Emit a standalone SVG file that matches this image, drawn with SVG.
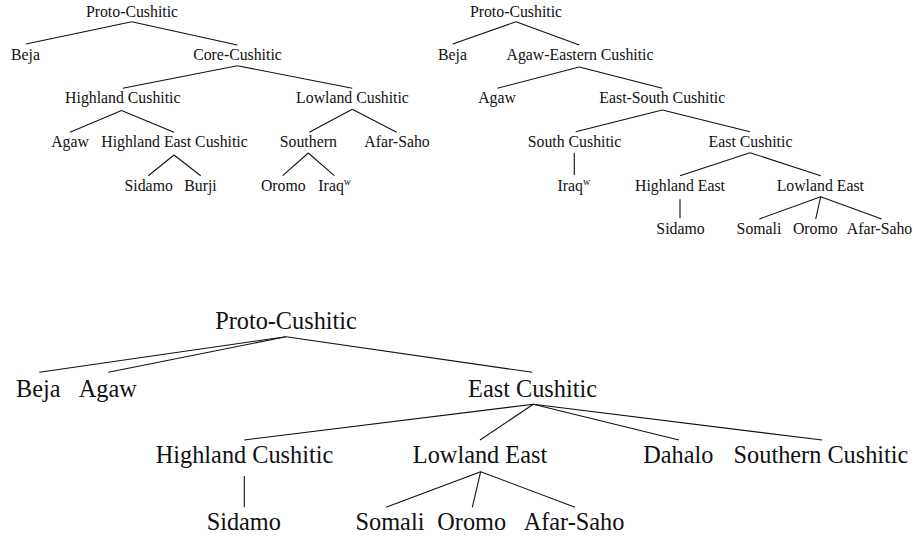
<svg xmlns="http://www.w3.org/2000/svg" width="913" height="538" viewBox="0 0 913 538">
<style>
text{font-family:'Liberation Serif','Times New Roman',serif;fill:#111;text-anchor:middle}
.s{font-size:15.8px}
.b{font-size:24.3px}
.sup{font-size:10px}
line{stroke:#111;stroke-width:1.1;fill:none}
</style>
<rect width="913" height="538" fill="#fff"/>
<g id="connectors">
<line x1="131.7" y1="21.7" x2="26" y2="44"/>
<line x1="131.7" y1="21.7" x2="237.3" y2="45"/>
<line x1="237.3" y1="65.7" x2="122.7" y2="88.3"/>
<line x1="237.3" y1="65.7" x2="352.3" y2="88.3"/>
<line x1="121.5" y1="110.5" x2="70" y2="132.3"/>
<line x1="121.5" y1="110.5" x2="174" y2="132.3"/>
<line x1="352.3" y1="109.3" x2="309.3" y2="132.3"/>
<line x1="352.3" y1="109.3" x2="396.7" y2="132.3"/>
<line x1="174" y1="155" x2="148.3" y2="175.7"/>
<line x1="174" y1="155" x2="200.7" y2="175.7"/>
<line x1="308.3" y1="153" x2="282.7" y2="175.7"/>
<line x1="308.3" y1="153" x2="334.3" y2="175.7"/>
<line x1="516" y1="21.7" x2="452.7" y2="44"/>
<line x1="516" y1="21.7" x2="579.3" y2="45"/>
<line x1="579.3" y1="67" x2="497.3" y2="88.3"/>
<line x1="579.3" y1="67" x2="662.3" y2="88.3"/>
<line x1="662.3" y1="110" x2="575.7" y2="131.7"/>
<line x1="662.3" y1="110" x2="750" y2="131.7"/>
<line x1="574.3" y1="152.7" x2="574.3" y2="175"/>
<line x1="750" y1="152.7" x2="680" y2="175.7"/>
<line x1="750" y1="152.7" x2="820.7" y2="175.7"/>
<line x1="680" y1="199.3" x2="680" y2="218.3"/>
<line x1="820.7" y1="196.7" x2="759.3" y2="219"/>
<line x1="820.7" y1="196.7" x2="815.7" y2="219"/>
<line x1="820.7" y1="196.7" x2="881.7" y2="219"/>
<line x1="286" y1="336.7" x2="39.3" y2="372.3"/>
<line x1="286" y1="336.7" x2="108.3" y2="372.3"/>
<line x1="286" y1="336.7" x2="532.3" y2="372.3"/>
<line x1="533.3" y1="404.3" x2="244.3" y2="440"/>
<line x1="533.3" y1="404.3" x2="480" y2="440"/>
<line x1="533.3" y1="404.3" x2="679" y2="440"/>
<line x1="533.3" y1="404.3" x2="822" y2="440"/>
<line x1="244.3" y1="476" x2="244.3" y2="507.3"/>
<line x1="480.7" y1="471.7" x2="386" y2="507.3"/>
<line x1="480.7" y1="471.7" x2="472.3" y2="507.3"/>
<line x1="480.7" y1="471.7" x2="575" y2="507.3"/>
</g>
<g id="t1-proto"><text class="s" x="132" y="17">Proto-Cushitic</text></g>
<g id="t1-beja"><text class="s" x="25.5" y="60">Beja</text></g>
<g id="t1-core"><text class="s" x="237.5" y="60">Core-Cushitic</text></g>
<g id="t1-highland"><text class="s" x="122.8" y="103.3">Highland Cushitic</text></g>
<g id="t1-lowland"><text class="s" x="352.5" y="103.3">Lowland Cushitic</text></g>
<g id="t1-agaw"><text class="s" x="70" y="146.7">Agaw</text></g>
<g id="t1-hec"><text class="s" x="174.5" y="146.7">Highland East Cushitic</text></g>
<g id="t1-southern"><text class="s" x="308.3" y="146.7">Southern</text></g>
<g id="t1-afar"><text class="s" x="397" y="146.7">Afar-Saho</text></g>
<g id="t1-sidamo"><text class="s" x="148.7" y="190.7">Sidamo</text></g>
<g id="t1-burji"><text class="s" x="200.5" y="190.7">Burji</text></g>
<g id="t1-oromo"><text class="s" x="283.3" y="190.7">Oromo</text></g>
<g id="t1-iraqw"><text class="s" x="334.7" y="190.7">Iraq<tspan class="sup" dy="-5.5">w</tspan></text></g>
<g id="t2-proto"><text class="s" x="516" y="17">Proto-Cushitic</text></g>
<g id="t2-beja"><text class="s" x="452.5" y="60">Beja</text></g>
<g id="t2-aec"><text class="s" x="580" y="60">Agaw-Eastern Cushitic</text></g>
<g id="t2-agaw"><text class="s" x="497" y="103.3">Agaw</text></g>
<g id="t2-esc"><text class="s" x="662.3" y="103.3">East-South Cushitic</text></g>
<g id="t2-south"><text class="s" x="574.5" y="146.7">South Cushitic</text></g>
<g id="t2-east"><text class="s" x="750.5" y="146.7">East Cushitic</text></g>
<g id="t2-iraqw"><text class="s" x="573.8" y="190.7">Iraq<tspan class="sup" dy="-5.5">w</tspan></text></g>
<g id="t2-highland"><text class="s" x="680" y="190.7">Highland East</text></g>
<g id="t2-lowland"><text class="s" x="820.3" y="190.7">Lowland East</text></g>
<g id="t2-sidamo"><text class="s" x="680.5" y="234.3">Sidamo</text></g>
<g id="t2-somali"><text class="s" x="759" y="234.3">Somali</text></g>
<g id="t2-oromo"><text class="s" x="815.3" y="234.3">Oromo</text></g>
<g id="t2-afar"><text class="s" x="879.5" y="234.3">Afar-Saho</text></g>
<g id="t3-proto"><text class="b" x="286" y="329.3">Proto-Cushitic</text></g>
<g id="t3-beja"><text class="b" x="38.3" y="396.7">Beja</text></g>
<g id="t3-agaw"><text class="b" x="107.8" y="396.7">Agaw</text></g>
<g id="t3-east"><text class="b" x="532.5" y="396.7">East Cushitic</text></g>
<g id="t3-highland"><text class="b" x="244.5" y="463.3">Highland Cushitic</text></g>
<g id="t3-lowland"><text class="b" x="480" y="463.3">Lowland East</text></g>
<g id="t3-dahalo"><text class="b" x="678.3" y="463.3">Dahalo</text></g>
<g id="t3-southern"><text class="b" x="821" y="463.3">Southern Cushitic</text></g>
<g id="t3-sidamo"><text class="b" x="243.8" y="530">Sidamo</text></g>
<g id="t3-somali"><text class="b" x="390" y="530">Somali</text></g>
<g id="t3-oromo"><text class="b" x="471.7" y="530">Oromo</text></g>
<g id="t3-afar"><text class="b" x="574" y="530">Afar-Saho</text></g>
</svg>
